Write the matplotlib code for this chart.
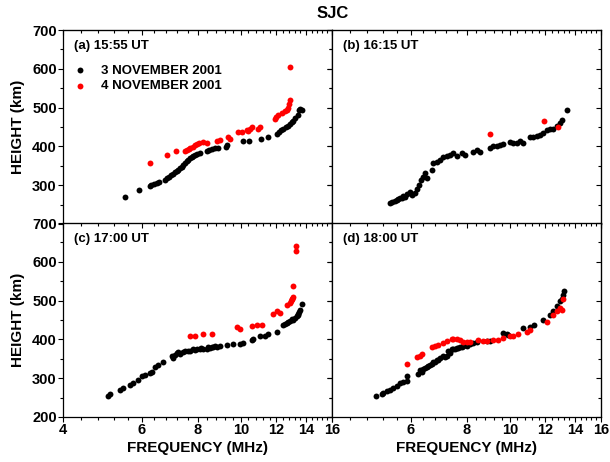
import matplotlib as mpl
import numpy as np

mpl.use("Agg")
import matplotlib.pyplot as plt
from matplotlib.ticker import FixedLocator, FixedFormatter, NullFormatter

# ---- data (frequency MHz, height km) ----
A_BLACK_F = [5.50, 5.92, 6.26, 6.31, 6.40, 6.48, 6.55, 6.75, 6.82, 6.90, 6.98, 7.06, 7.12,
             7.19, 7.25, 7.31, 7.38, 7.44, 7.50, 7.57, 7.63, 7.70, 7.76, 7.83, 7.90, 7.97,
             8.10, 8.39, 8.50, 8.60, 8.75, 8.90, 9.25, 9.33, 10.13, 10.45, 11.10, 11.50,
             12.03, 12.15, 12.30, 12.45, 12.60, 12.75, 12.89, 13.00, 13.11, 13.25, 13.45,
             13.50, 13.60, 13.70]
A_BLACK_H = [270, 287, 297, 300, 303, 306, 309, 314, 318, 322, 326, 329, 333,
             337, 340, 344, 347, 351, 356, 362, 366, 370, 373, 376, 378, 380,
             382, 388, 392, 394, 395, 397, 398, 403, 413, 413, 418, 425,
             433, 437, 441, 445, 449, 452, 457, 462, 466, 472, 482,
             493, 497, 494]
A_RED_F = [6.26, 6.82, 7.15, 7.50, 7.57, 7.65, 7.70, 7.83, 7.90, 7.97, 8.05, 8.24, 8.39,
           8.83, 8.98, 9.38, 9.45, 9.88, 10.04, 10.31, 10.40, 10.49, 10.58, 10.95, 11.04,
           11.93, 12.00, 12.10, 12.34, 12.56, 12.70, 12.78, 12.85, 12.89, 12.89]
A_RED_H = [356, 378, 388, 389, 392, 394, 396, 399, 404, 407, 410, 412, 410,
           415, 417, 423, 420, 436, 438, 443, 440, 446, 449, 446, 449,
           470, 476, 480, 487, 491, 495, 500, 510, 520, 604]

B_BLACK_F = [5.39, 5.45, 5.53, 5.58, 5.63, 5.68, 5.73, 5.78, 5.83, 5.90, 5.98, 6.05, 6.14,
             6.21, 6.27, 6.32, 6.40, 6.46, 6.54, 6.69, 6.74, 6.86, 6.98, 7.10, 7.23, 7.36,
             7.48, 7.62, 7.82, 7.95, 8.28, 8.43, 8.58, 9.03, 9.19, 9.35, 9.51, 9.67, 10.01,
             10.18, 10.37, 10.54, 10.72, 11.10, 11.29, 11.49, 11.69, 11.89, 12.10, 12.31,
             12.52, 12.74, 12.96, 13.07, 13.45]
B_BLACK_H = [255, 257, 259, 262, 264, 266, 268, 271, 270, 277, 283, 276, 281,
             289, 300, 313, 322, 331, 318, 339, 356, 361, 365, 372, 374, 378,
             382, 374, 382, 378, 386, 391, 386, 395, 401, 402, 403, 405, 412,
             410, 408, 415, 408, 423, 425, 427, 429, 434, 441, 444,
             444, 453, 460, 468, 494]
B_RED_F = [9.03, 11.93, 12.80]
B_RED_H = [431, 465, 449]

C_BLACK_F = [5.05, 5.10, 5.37, 5.46, 5.65, 5.75, 5.90, 6.00, 6.10, 6.26, 6.32, 6.43, 6.54,
             6.71, 7.00, 7.05, 7.12, 7.19, 7.25, 7.31, 7.44, 7.50, 7.63, 7.70, 7.83, 7.90,
             7.97, 8.10, 8.15, 8.24, 8.39, 8.45, 8.53, 8.60, 8.68, 8.75, 8.83, 8.98, 9.30,
             9.62, 9.96, 10.13, 10.58, 10.67, 11.04, 11.33, 11.52, 12.03, 12.45, 12.55,
             12.67, 12.75, 12.89, 13.00, 13.11, 13.20, 13.34, 13.40, 13.45, 13.50, 13.57,
             13.68]
C_BLACK_H = [254, 259, 270, 274, 283, 287, 296, 305, 307, 313, 317, 330, 335,
             341, 356, 352, 361, 365, 367, 363, 367, 370, 369, 371, 374, 373,
             375, 374, 377, 375, 375, 380, 378, 381, 380, 383, 381, 382, 386,
             387, 389, 391, 398, 400, 408, 410, 413, 419, 438, 440,
             443, 446, 447, 452, 451, 455, 460, 466, 464, 470, 477,
             490]
C_RED_F = [7.70, 7.90, 8.24, 8.60, 9.79, 9.96, 10.58, 10.85, 11.13, 11.83, 12.03, 12.24,
           12.67, 12.89, 12.95, 13.00, 13.05, 13.11, 13.11, 13.29, 13.29]
C_RED_H = [410, 410, 414, 414, 431, 427, 434, 438, 437, 466, 473, 467,
           488, 495, 500, 503, 505, 510, 538, 640, 627]

D_BLACK_F = [5.02, 5.17, 5.21, 5.30, 5.39, 5.49, 5.58, 5.68, 5.78, 5.90, 5.90, 6.24, 6.30,
             6.35, 6.40, 6.46, 6.52, 6.57, 6.63, 6.69, 6.74, 6.80, 6.86, 6.92, 6.98, 7.10,
             7.16, 7.22, 7.29, 7.35, 7.41, 7.48, 7.54, 7.61, 7.67, 7.74, 7.80, 7.87, 7.94,
             8.01, 8.15, 8.29, 8.43, 8.88, 9.03, 9.67, 9.84, 9.93, 10.72, 11.10, 11.33,
             11.89, 12.30, 12.52, 12.73, 12.95, 13.07, 13.18, 13.25]
D_BLACK_H = [254, 259, 263, 266, 270, 274, 280, 287, 289, 292, 305, 311, 322,
             317, 324, 326, 330, 332, 335, 337, 341, 343, 348, 346, 352, 356,
             354, 358, 370, 365, 374, 375, 376, 377, 378, 381, 380, 382, 386,
             384, 387, 391, 393, 395, 397, 417, 415, 412, 430, 432, 436,
             451, 464, 473, 486, 499, 503, 514, 525]
D_RED_F = [5.90, 6.19, 6.30, 6.35, 6.69, 6.80, 6.92, 7.10, 7.22, 7.41, 7.48, 7.61, 7.74,
           7.87, 8.01, 8.15, 8.51, 8.73, 8.88, 9.19, 9.43, 9.67, 10.01, 10.18, 10.45,
           10.91, 11.10, 12.09, 12.52, 12.73, 12.95, 13.07, 13.18]
D_RED_H = [336, 354, 358, 362, 380, 384, 386, 391, 395, 401, 400, 400, 398,
           393, 393, 393, 399, 395, 395, 399, 399, 404, 408, 408, 415,
           419, 424, 444, 464, 473, 482, 477, 503]

PANELS = ["(a) 15:55 UT", "(b) 16:15 UT", "(c) 17:00 UT", "(d) 18:00 UT"]
LEGEND_LABELS = ["3 NOVEMBER 2001", "4 NOVEMBER 2001"]
X_MAJOR = [4, 6, 8, 10, 12, 14, 16]
Y_MAJOR = [200, 300, 400, 500, 600, 700]

FONT = "Liberation Sans"
plt.rcParams["font.family"] = [FONT, "DejaVu Sans"]
plt.rcParams["font.weight"] = "bold"

fig = plt.figure(figsize=(6.1, 4.62), dpi=100)

W = 269 / 610
H = 194 / 462
positions = [
    (63 / 610, 238 / 462),
    (332 / 610, 238 / 462),
    (63 / 610, 45 / 462),
    (332 / 610, 45 / 462),
]
series = [
    (A_BLACK_F, A_BLACK_H, A_RED_F, A_RED_H),
    (B_BLACK_F, B_BLACK_H, B_RED_F, B_RED_H),
    (C_BLACK_F, C_BLACK_H, C_RED_F, C_RED_H),
    (D_BLACK_F, D_BLACK_H, D_RED_F, D_RED_H),
]
x_minor = np.arange(4.0, 16.01, 0.4)
y_minor = np.arange(200, 701, 50)

for i, ((x0, y0), (bf, bh, rf, rh)) in enumerate(zip(positions, series)):
    ax = fig.add_axes([x0, y0, W, H])
    ax.set_xscale("log")
    ax.set_xlim(4, 16)
    ax.set_ylim(200, 700)
    ax.scatter(bf, bh, s=18, c="black", linewidths=0, label=LEGEND_LABELS[0], zorder=3)
    ax.scatter(rf, rh, s=18, c="#ff0000", linewidths=0, label=LEGEND_LABELS[1], zorder=3)

    ax.xaxis.set_major_locator(FixedLocator(X_MAJOR))
    ax.xaxis.set_minor_locator(FixedLocator(x_minor))
    ax.xaxis.set_minor_formatter(NullFormatter())
    ax.yaxis.set_major_locator(FixedLocator(Y_MAJOR))
    ax.yaxis.set_minor_locator(FixedLocator(y_minor))

    xlabels = [str(v) for v in X_MAJOR]
    if i == 3:
        xlabels[0] = ""
    ax.xaxis.set_major_formatter(FixedFormatter(xlabels))
    ylabels = [str(v) for v in Y_MAJOR]
    if i == 0:
        ylabels[0] = ""
    ax.yaxis.set_major_formatter(FixedFormatter(ylabels))

    ax.tick_params(which="both", direction="out", width=0.8, labelsize=10.5,
                   top=False, right=False, pad=1)
    ax.tick_params(which="major", length=3.5)
    ax.tick_params(which="minor", length=2)
    if i < 2:
        ax.tick_params(labelbottom=False)
    if i in (1, 3):
        ax.tick_params(labelleft=False)
    for lab in ax.get_xticklabels() + ax.get_yticklabels():
        lab.set_fontweight("bold")
    for sp in ax.spines.values():
        sp.set_linewidth(0.9)

    # inward ticks on top and right
    top = ax.secondary_xaxis("top")
    top.xaxis.set_major_locator(FixedLocator(X_MAJOR))
    top.xaxis.set_minor_locator(FixedLocator(x_minor))
    top.xaxis.set_major_formatter(NullFormatter())
    top.xaxis.set_minor_formatter(NullFormatter())
    top.tick_params(which="both", direction="in", width=0.8)
    top.tick_params(which="major", length=3.5)
    top.tick_params(which="minor", length=2)
    right = ax.secondary_yaxis("right")
    right.yaxis.set_major_locator(FixedLocator(Y_MAJOR))
    right.yaxis.set_minor_locator(FixedLocator(y_minor))
    right.yaxis.set_major_formatter(NullFormatter())
    right.yaxis.set_minor_formatter(NullFormatter())
    right.tick_params(which="both", direction="in", width=0.8)
    right.tick_params(which="major", length=3.5)
    right.tick_params(which="minor", length=2)

    ax.text(0.04, 0.915, PANELS[i], transform=ax.transAxes, fontsize=9.5,
            fontweight="bold", va="center", ha="left")
    if i == 0:
        ax.legend(loc="upper left", bbox_to_anchor=(0.0, 0.87), frameon=False,
                  borderaxespad=0.3, handletextpad=1.0, labelspacing=0.25,
                  handlelength=1.2, prop={"weight": "bold", "size": 9.5})

fig.text(333 / 610, 1 - 14 / 462, "SJC", ha="center", va="center",
         fontsize=12, fontweight="bold")
for yc in (127, 320):
    fig.text(18 / 610, 1 - yc / 462, "HEIGHT (km)", rotation=90, ha="center",
             va="center", fontsize=11, fontweight="bold")
for xc in (197.5, 467):
    fig.text(xc / 610, 1 - 448 / 462, "FREQUENCY (MHz)", ha="center", va="center",
             fontsize=11, fontweight="bold")

fig.savefig("out.png", dpi=100, facecolor="white")
